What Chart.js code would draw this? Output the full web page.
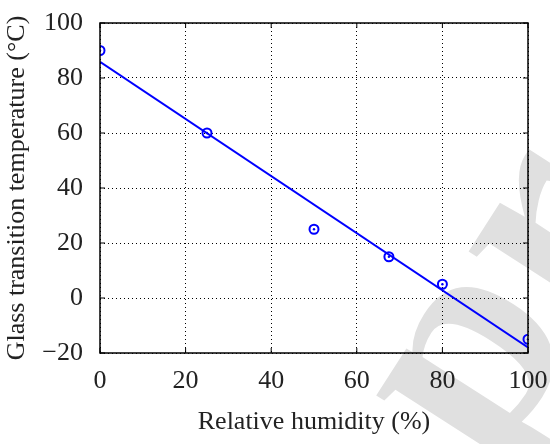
<!DOCTYPE html>
<html><head><meta charset="utf-8">
<script src="https://cdn.jsdelivr.net/npm/chart.js@4"></script>
<style>html,body{margin:0;padding:0;background:#fff;}#w{width:550px;height:444px;position:relative;}</style>
</head><body><div id="w"><canvas id="c"></canvas></div>
<script>
const humidity = [0, 25, 50, 67.5, 80, 100];
const tg = [90, 60, 25, 15, 5, -15];
const fitX = [0, 100];
const fitY = [85.9, -18.0];
const xTicks = [0, 20, 40, 60, 80, 100];
const yTicks = [-20, 0, 20, 40, 60, 80, 100];
const xTitle = 'Relative humidity (%)';
const yTitle = 'Glass transition temperature (°C)';

const pts = humidity.map((x,i)=>({x, y: tg[i]}));
const fit = fitX.map((x,i)=>({x, y: fitY[i]}));
const FONT = '"Liberation Serif", "DejaVu Serif", serif';

const inTicks = {
  id:'inTicks',
  afterDraw(chart){
    const {ctx, chartArea:a, scales:{x,y}} = chart;
    ctx.save(); ctx.strokeStyle='#000'; ctx.lineWidth=1;
    const L=5;
    xTicks.forEach(v=>{const px=x.getPixelForValue(v);
      ctx.beginPath();ctx.moveTo(px,a.bottom);ctx.lineTo(px,a.bottom-L);ctx.moveTo(px,a.top);ctx.lineTo(px,a.top+L);ctx.stroke();});
    yTicks.forEach(v=>{const py=y.getPixelForValue(v);
      ctx.beginPath();ctx.moveTo(a.left,py);ctx.lineTo(a.left+L,py);ctx.moveTo(a.right,py);ctx.lineTo(a.right-L,py);ctx.stroke();});
    ctx.lineWidth=1.5;
    ctx.strokeRect(a.left,a.top,a.right-a.left,a.bottom-a.top);
    ctx.restore();
  }
};
const watermark = {
  id:'watermark',
  beforeDraw(chart){
    const ctx=chart.ctx; ctx.save();
    ctx.translate(490,473); ctx.rotate(-1.0);
    ctx.fillStyle='#e0e0e0'; ctx.font='bold 300px '+FONT;
    ctx.textBaseline='alphabetic'; ctx.fillText('preview',0,0);
    ctx.restore();
  }
};

new Chart(document.getElementById('c'), {
  type:'scatter',
  data:{datasets:[
    {data:fit, showLine:true, borderColor:'#0000ff', borderWidth:2, pointRadius:0, fill:false, order:2},
    {data:pts, showLine:false, borderColor:'#0000ff', backgroundColor:'rgba(0,0,0,0)', borderWidth:2, pointRadius:4.5, order:1},
    {data:pts, showLine:false, borderColor:'#0000ff', backgroundColor:'#0000ff', borderWidth:0, pointRadius:1.2, order:0}
  ]},
  options:{
    responsive:true, maintainAspectRatio:false, animation:false,
    layout:{padding:{top:23,right:22,left:0,bottom:2}},
    plugins:{legend:{display:false}, tooltip:{enabled:false}},
    scales:{
      x:{type:'linear', min:0, max:100,
        afterBuildTicks(s){s.ticks=xTicks.map(v=>({value:v}));},
        afterFit(s){s.height=89; s.paddingLeft=0; s.paddingRight=0;},
        grid:{color:'#000', lineWidth:1, drawTicks:false},
        border:{display:false, dash:[1,3]},
        ticks:{color:'#222', font:{family:FONT,size:26}, padding:13, maxRotation:0},
        title:{display:true, text:xTitle, color:'#222', font:{family:FONT,size:26}, padding:{top:4,bottom:4}}
      },
      y:{type:'linear', min:-20, max:100,
        afterBuildTicks(s){s.ticks=yTicks.map(v=>({value:v}));},
        afterFit(s){s.width=100; s.paddingTop=0; s.paddingBottom=0;},
        grid:{color:'#000', lineWidth:1, drawTicks:false},
        border:{display:false, dash:[1,3]},
        ticks:{color:'#222', font:{family:FONT,size:26}, padding:17,
          callback:v=>v<0?'\u2212'+Math.abs(v):String(v)},
        title:{display:true, text:yTitle, color:'#222', font:{family:FONT,size:26}, padding:{top:2,bottom:2}}
      }
    }
  },
  plugins:[watermark, inTicks]
});
</script>
</body></html>
